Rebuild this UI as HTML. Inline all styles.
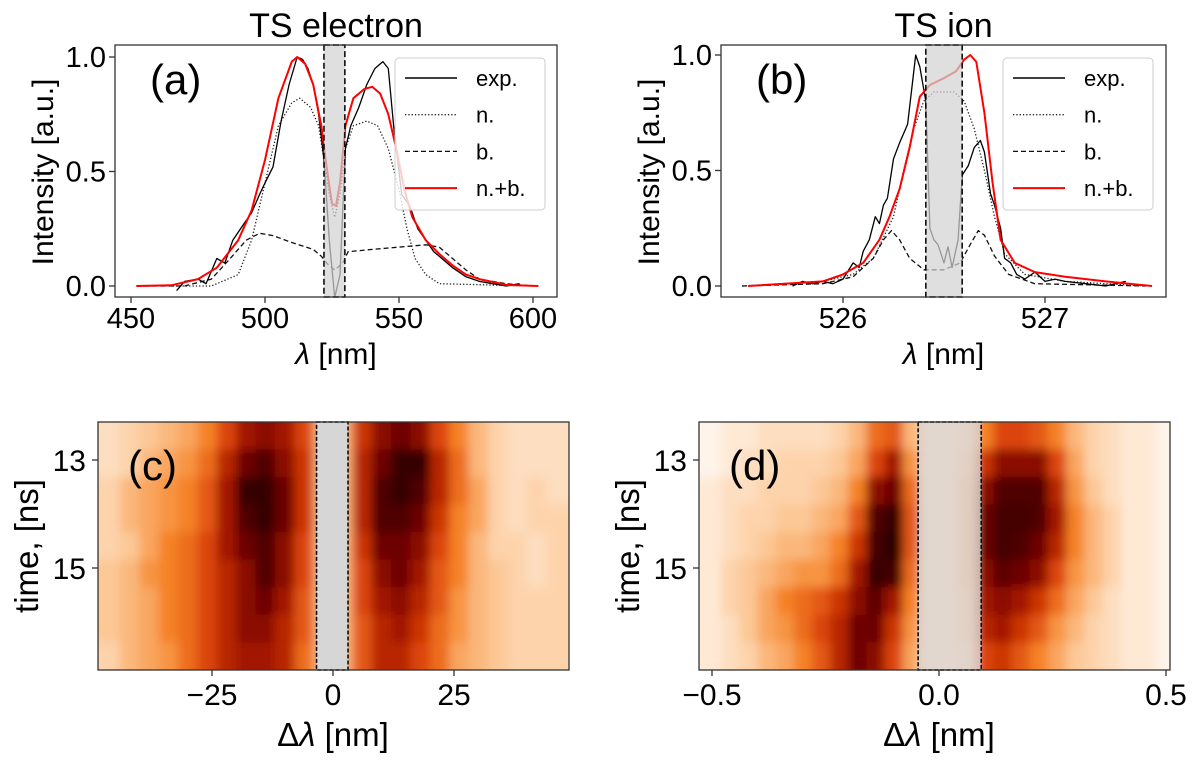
<!DOCTYPE html>
<html><head><meta charset="utf-8"><style>
body{margin:0;background:#fff}
svg{display:block;font-family:"Liberation Sans",Arial,sans-serif}
</style></head><body>
<svg id="fig" width="1200" height="767" viewBox="0 0 1200 767" xmlns="http://www.w3.org/2000/svg">
<defs><filter id="blur" x="-5%" y="-5%" width="110%" height="110%"><feGaussianBlur stdDeviation="5"/></filter></defs>
</svg>
<script>
// ---------- Panel (a) data ----------
const aExpX=[467,470,475,478,482,485,488,492,495,498,500,503,506,509,512,514,516,518,520,522,524,526,528,530,532,535,538,541,544,546,548,551,554,557,560,563,566,570,575,580,585,590,595];
const aExpY=[-0.02,0.02,0.03,0.01,0.12,0.1,0.2,0.27,0.32,0.4,0.45,0.52,0.72,0.88,1.0,0.99,0.95,0.88,0.75,0.55,0.2,-0.05,0.05,0.6,0.7,0.78,0.88,0.95,0.98,0.95,0.7,0.4,0.35,0.25,0.2,0.15,0.12,0.08,0.04,0.02,0.01,0.0,0.01];
const aNX=[452,480,490,495,500,505,510,513,517,520,522,524,526,528,530,533,538,542,546,550,553,556,560,565,600];
const aNY=[0,0,0.05,0.2,0.45,0.7,0.8,0.82,0.78,0.7,0.55,0.4,0.3,0.4,0.6,0.7,0.72,0.7,0.6,0.42,0.25,0.12,0.05,0.01,0];
const aBX=[452,470,480,487,493,498,503,510,518,521,523,526,529,531,540,550,560,565,570,575,580,590,600];
const aBY=[0,0,0.03,0.12,0.2,0.23,0.22,0.19,0.16,0.13,0.1,0.07,0.1,0.15,0.16,0.17,0.18,0.17,0.12,0.07,0.03,0.01,0];
const aFX=[452,465,475,482,490,495,500,505,510,512,515,518,521,523,525,526.5,528,530,533,537,540,543,546,549,552,555,560,565,570,575,580,590,602];
const aFY=[0,0.003,0.03,0.08,0.2,0.33,0.55,0.82,0.98,1.0,0.97,0.88,0.7,0.52,0.36,0.35,0.45,0.7,0.82,0.86,0.87,0.84,0.75,0.6,0.42,0.3,0.2,0.14,0.09,0.05,0.03,0.005,0];
const aXTicks=[450,500,550,600];
const aYTicks=[0,0.5,1.0];
const aShade=[522,529.8];
// ---------- Panel (b) data ----------
const bExpX=[525.75,525.8,525.85,525.9,525.95,526.0,526.05,526.08,526.1,526.13,526.16,526.18,526.2,526.22,526.25,526.28,526.32,526.36,526.38,526.41,526.43,526.45,526.47,526.5,526.52,526.54,526.57,526.59,526.62,526.65,526.68,526.7,526.73,526.75,526.78,526.8,526.83,526.86,526.9,526.95,527.0,527.05,527.1,527.2,527.3,527.4];
const bExpY=[0.0,0.02,0.01,0.02,0.01,0.03,0.1,0.08,0.15,0.2,0.3,0.27,0.35,0.38,0.55,0.62,0.7,1.0,0.95,0.8,0.25,0.2,0.18,0.1,0.17,0.08,0.2,0.48,0.52,0.6,0.63,0.58,0.4,0.35,0.25,0.12,0.1,0.05,0.03,0.06,0.02,0.03,0.02,0.01,0.0,0.02];
const bNX=[525.5,525.9,526.05,526.15,526.25,526.3,526.35,526.4,526.45,526.5,526.55,526.6,526.65,526.7,526.75,526.8,526.9,527.1,527.5];
const bNY=[0,0.02,0.05,0.12,0.3,0.5,0.68,0.8,0.84,0.84,0.84,0.8,0.68,0.5,0.3,0.14,0.05,0.02,0];
const bBX=[525.5,525.9,526.05,526.15,526.2,526.24,526.28,526.33,526.4,526.5,526.58,526.63,526.67,526.7,526.75,526.82,526.95,527.5];
const bBY=[0,0.01,0.04,0.12,0.2,0.24,0.2,0.12,0.07,0.07,0.1,0.18,0.24,0.22,0.13,0.05,0.01,0];
const bFX=[525.53,525.9,526.0,526.1,526.18,526.23,526.28,526.33,526.38,526.43,526.5,526.56,526.6,526.63,526.66,526.7,526.74,526.78,526.85,526.95,527.1,527.3,527.53];
const bFY=[0,0.02,0.05,0.1,0.2,0.3,0.42,0.6,0.82,0.87,0.9,0.93,0.98,1.0,0.97,0.75,0.45,0.2,0.1,0.06,0.04,0.02,0];
const bXTicks=[526,527];
const bYTicks=[0,0.5,1.0];
const bShade=[526.41,526.59];
// ---------- Panel (c) heatmap data ----------
const cCols=[-46,-42,-38,-34,-30,-26,-22,-18,-14,-10,-6,-2,2,6,10,14,18,22,26,30,34,38,42,46];
const cRows=[12.55,13.06,13.57,14.08,14.59,15.1,15.61,16.12,16.63];
const cVals=[
[.15,.2,.25,.3,.35,.45,.6,.75,.8,.75,.6,.3,.3,.65,.8,.85,.8,.6,.45,.3,.2,.15,.15,.15],
[.15,.2,.3,.35,.4,.5,.7,.85,.9,.8,.65,.3,.3,.7,.85,.95,.95,.7,.5,.3,.2,.15,.15,.15],
[.2,.3,.35,.4,.45,.55,.75,.95,.95,.85,.65,.3,.3,.7,.9,.95,.9,.7,.5,.35,.2,.15,.2,.15],
[.2,.3,.35,.4,.45,.55,.75,.9,.95,.85,.65,.3,.3,.7,.9,.9,.85,.65,.45,.35,.2,.15,.2,.2],
[.2,.25,.35,.45,.5,.6,.75,.85,.9,.8,.6,.3,.3,.65,.85,.85,.8,.6,.45,.3,.2,.2,.15,.2],
[.25,.3,.4,.45,.5,.6,.7,.8,.9,.8,.6,.3,.3,.6,.8,.85,.75,.55,.45,.3,.25,.2,.15,.2],
[.25,.3,.35,.45,.5,.6,.7,.8,.85,.75,.55,.3,.3,.6,.75,.8,.7,.55,.4,.3,.25,.2,.2,.2],
[.25,.3,.35,.45,.5,.6,.7,.8,.8,.7,.55,.3,.3,.55,.7,.75,.65,.5,.4,.3,.25,.2,.2,.2],
[.2,.3,.35,.4,.5,.6,.7,.75,.75,.7,.5,.3,.3,.55,.7,.7,.6,.5,.35,.3,.25,.2,.2,.2]];
const cXTicks=[-25,0,25];
const cYTicks=[13,15];
const cShade=[-3.4,3.1];
// ---------- Panel (d) heatmap data ----------
const dCols=[-0.50,-0.46,-0.42,-0.38,-0.34,-0.30,-0.26,-0.22,-0.18,-0.14,-0.10,-0.06,-0.02,0.02,0.06,0.10,0.14,0.18,0.22,0.26,0.30,0.34,0.38,0.42,0.46,0.50];
const dRows=[12.55,13.06,13.57,14.08,14.59,15.1,15.61,16.12,16.63];
const dVals=[
[.05,.1,.1,.15,.15,.15,.15,.2,.3,.5,.55,.3,.1,.1,.15,.45,.6,.6,.55,.45,.3,.2,.15,.1,.1,.05],
[.05,.1,.15,.15,.2,.2,.2,.25,.35,.6,.75,.4,.1,.1,.2,.65,.8,.8,.8,.6,.35,.2,.15,.1,.1,.05],
[.1,.15,.15,.2,.2,.2,.25,.3,.45,.8,.85,.5,.1,.1,.25,.8,.9,.9,.9,.7,.4,.25,.15,.1,.1,.05],
[.1,.15,.2,.2,.25,.25,.3,.35,.55,.9,.95,.55,.1,.1,.25,.85,.92,.92,.9,.75,.45,.3,.2,.1,.1,.05],
[.1,.15,.2,.25,.3,.3,.35,.45,.65,.92,.97,.55,.1,.1,.25,.85,.92,.9,.85,.7,.45,.3,.2,.1,.1,.05],
[.1,.2,.25,.3,.35,.4,.4,.5,.75,.95,.92,.5,.1,.1,.25,.8,.88,.85,.8,.6,.4,.3,.2,.1,.1,.05],
[.1,.2,.25,.35,.45,.5,.55,.65,.8,.88,.75,.45,.1,.1,.2,.75,.8,.75,.65,.5,.35,.25,.15,.1,.1,.05],
[.1,.15,.25,.35,.4,.5,.6,.7,.85,.85,.65,.4,.1,.1,.2,.7,.75,.65,.55,.4,.3,.2,.15,.1,.1,.05],
[.1,.15,.2,.3,.35,.45,.55,.7,.85,.8,.6,.35,.1,.1,.15,.6,.65,.55,.45,.35,.25,.2,.15,.1,.1,.05]];
const dXTicks=[-0.5,0.0,0.5];
const dYTicks=[13,15];
const dShade=[-0.046,0.093];

const NS="http://www.w3.org/2000/svg";
const svg=document.getElementById('fig');
function mk(tag,attrs,parent){const e=document.createElementNS(NS,tag);for(const k in attrs)e.setAttribute(k,attrs[k]);(parent||svg).appendChild(e);return e;}
function txt(s,attrs,parent){const e=mk('text',attrs,parent);e.textContent=s;return e;}
function lin(d0,d1,r0,r1){return v=>r0+(v-d0)/(d1-d0)*(r1-r0);}

const cmStops=[[0,[255,255,255]],[0.25,[252,200,150]],[0.45,[245,130,40]],[0.62,[215,60,5]],[0.78,[150,15,0]],[0.9,[80,0,0]],[1,[25,0,0]]];
function cmap(v){v=Math.max(0,Math.min(1,v));for(let i=1;i<cmStops.length;i++){if(v<=cmStops[i][0]){const[a,ca]=cmStops[i-1],[b,cb]=cmStops[i];const t=(v-a)/(b-a);return 'rgb('+ca.map((c,j)=>Math.round(c+(cb[j]-c)*t)).join(',')+')';}}return 'rgb(25,0,0)';}

function linePanel(o){
  const g=mk('g',{});
  
  
  const X=lin(o.xd[0],o.xd[1],o.xr[0],o.xr[1]), Y=lin(0,1,o.y0,o.y1);
  const cid='clip-'+o.name;
  const cp=mk('clipPath',{id:cid},g);mk('rect',{x:o.L,y:o.T,width:o.R-o.L,height:o.B-o.T},cp);
  const pl=mk('g',{'clip-path':'url(#'+cid+')'},g);
  function series(xs,ys,style,name){const p=mk('polyline',Object.assign({points:xs.map((x,i)=>X(x).toFixed(1)+','+Y(ys[i]).toFixed(1)).join(' '),fill:'none','stroke-linejoin':'round'},style),pl);
    
    }
  series(o.nx,o.ny,{stroke:'#222','stroke-width':1.3,'stroke-dasharray':'1.3,2'},'series-n');
  series(o.bx,o.by,{stroke:'#111','stroke-width':1.3,'stroke-dasharray':'5,3'},'series-b');
  series(o.ex,o.ey,{stroke:'#000','stroke-width':1.3},'series-exp');
  series(o.fx,o.fy,{stroke:'#ff0000','stroke-width':2},'series-nb');
  const sh=mk('rect',{x:X(o.sh[0]),y:o.T,width:X(o.sh[1])-X(o.sh[0]),height:o.B-o.T,fill:'#d3d3d3','fill-opacity':0.72,stroke:'#000','stroke-width':1.5,'stroke-dasharray':'6,3'},g);
  
  
  mk('rect',{x:o.L,y:o.T,width:o.R-o.L,height:o.B-o.T,fill:'none',stroke:'#333','stroke-width':1.3},g);
  o.xt.forEach(t=>{const x=X(t);mk('line',{x1:x,x2:x,y1:o.B,y2:o.B+6,stroke:'#333','stroke-width':1.3},g);
    const e=txt(String(t),{x:x,y:o.B+31,'font-size':29,'text-anchor':'middle'},g);
    
    });
  o.yt.forEach(t=>{const y=Y(t);mk('line',{x1:o.L-6,x2:o.L,y1:y,y2:y,stroke:'#333','stroke-width':1.3},g);
    const e=txt(t.toFixed(1),{x:o.L-9,y:y+10,'font-size':29,'text-anchor':'end'},g);
    
    });
  const ti=txt(o.title,{x:(o.L+o.R)/2,y:37,'font-size':34,'text-anchor':'middle'},g);
  
  
  const pla=txt(o.label,{x:o.L+35,y:94,'font-size':42},g);
  
  
  const xl=mk('text',{x:(o.L+o.R)/2,y:364,'font-size':30,'text-anchor':'middle'},g);
  xl.innerHTML='<tspan font-style="italic">λ</tspan> [nm]';
  
  
  const yl=txt('Intensity [a.u.]',{x:0,y:0,'font-size':30,'text-anchor':'middle',transform:'translate('+(o.L-62)+',172) rotate(-90)'},g);
  
  
  const lg=mk('g',{},g);
  
  
  mk('rect',{x:o.lx,y:58,width:150,height:152,rx:4,fill:'#fff','fill-opacity':0.8,stroke:'#ccc','stroke-width':1},lg);
  const ents=[['exp.',{stroke:'#000','stroke-width':1.5}],['n.',{stroke:'#222','stroke-width':1.3,'stroke-dasharray':'1.3,2'}],['b.',{stroke:'#111','stroke-width':1.3,'stroke-dasharray':'5,3'}],['n.+b.',{stroke:'#ff0000','stroke-width':2}]];
  ents.forEach((en,i)=>{const y=78+i*36.7;
    const eg=mk('g',{},lg);
    
    
    mk('line',Object.assign({x1:o.lx+10,x2:o.lx+62,y1:y,y2:y},en[1]),eg);
    txt(en[0],{x:o.lx+81,y:y+8,'font-size':22},eg);});
}

linePanel({name:'panel-a',L:115,R:557,T:45,B:297,xd:[450,500],xr:[131,265],y0:286,y1:57,xt:aXTicks,yt:aYTicks,sh:aShade,
  ex:aExpX,ey:aExpY,nx:aNX,ny:aNY,bx:aBX,by:aBY,fx:aFX,fy:aFY,title:'TS electron',label:'(a)',lx:395});
linePanel({name:'panel-b',L:721,R:1166,T:45,B:297,xd:[526,527],xr:[843,1045],y0:286,y1:55,xt:bXTicks,yt:bYTicks,sh:bShade,
  ex:bExpX,ey:bExpY,nx:bNX,ny:bNY,bx:bBX,by:bBY,fx:bFX,fy:bFY,title:'TS ion',label:'(b)',lx:1003});

function heatPanel(o){
  const g=mk('g',{});
  
  
  const T=422,B=670;
  const X=lin(o.xd[0],o.xd[1],o.xr[0],o.xr[1]);
  const Y=lin(13,15,460,568);
  const cid='clip-'+o.name;
  const cp=mk('clipPath',{id:cid},g);mk('rect',{x:o.L,y:T,width:o.R-o.L,height:B-T},cp);
  const outer=mk('g',{'clip-path':'url(#'+cid+')'},g);
  const hg=mk('g',{filter:'url(#blur)'},outer);
  const dx=o.cols[1]-o.cols[0], dy=o.rows[1]-o.rows[0];
  const nr=o.vals.length, nc=o.vals[0].length;
  o.vals.forEach((row,ri)=>row.forEach((v,ci)=>{
    let x0=X(o.cols[ci]-dx/2), x1=X(o.cols[ci]+dx/2), y0=Y(o.rows[ri]-dy/2), y1=Y(o.rows[ri]+dy/2);
    if(ci===0)x0-=25; if(ci===nc-1)x1+=25; if(ri===0)y0-=25; if(ri===nr-1)y1+=25;
    const r=mk('rect',{x:x0.toFixed(1),y:y0.toFixed(1),width:(x1-x0+0.6).toFixed(1),height:(y1-y0+0.6).toFixed(1),fill:cmap(v)},hg);
    
    
  }));
  const sh=mk('rect',{x:X(o.sh[0]),y:T,width:X(o.sh[1])-X(o.sh[0]),height:B-T,fill:o.shFill,'fill-opacity':o.shOp,stroke:'#000','stroke-width':1.5,'stroke-dasharray':'4,2'},g);
  
  
  mk('rect',{x:o.L,y:T,width:o.R-o.L,height:B-T,fill:'none',stroke:'#333','stroke-width':1.3},g);
  o.xt.forEach(t=>{const x=X(t);mk('line',{x1:x,x2:x,y1:B,y2:B+6,stroke:'#333','stroke-width':1.3},g);
    const e=txt((t<0?'−':'')+o.fmt(Math.abs(t)),{x:x,y:705,'font-size':30,'text-anchor':'middle'},g);
    
    });
  o.yt.forEach(t=>{const y=Y(t);mk('line',{x1:o.L-6,x2:o.L,y1:y,y2:y,stroke:'#333','stroke-width':1.3},g);
    const e=txt(String(t),{x:o.L-12,y:y+11,'font-size':30,'text-anchor':'end'},g);
    
    });
  const pla=txt(o.label,{x:o.L+30,y:480,'font-size':42},g);
  
  
  const xl=mk('text',{x:X(0),y:746,'font-size':33,'text-anchor':'middle'},g);
  xl.innerHTML='Δ<tspan font-style="italic">λ</tspan> [nm]';
  
  
  const yl=txt('time, [ns]',{x:0,y:0,'font-size':33,'text-anchor':'middle',transform:'translate('+(o.L-60)+',546) rotate(-90)'},g);
  
  
}
heatPanel({name:'panel-c',L:98,R:569,xd:[-25,25],xr:[212,454],cols:cCols,rows:cRows,vals:cVals,xt:cXTicks,yt:cYTicks,sh:cShade,shFill:'#d6d6d6',shOp:1,label:'(c)',fmt:v=>String(v)});
heatPanel({name:'panel-d',L:699,R:1170,xd:[-0.5,0.5],xr:[712,1166],cols:dCols,rows:dRows,vals:dVals,xt:dXTicks,yt:dYTicks,sh:dShade,shFill:'#d8d0cc',shOp:0.75,label:'(d)',fmt:v=>v.toFixed(1)});
</script>
</body></html>
